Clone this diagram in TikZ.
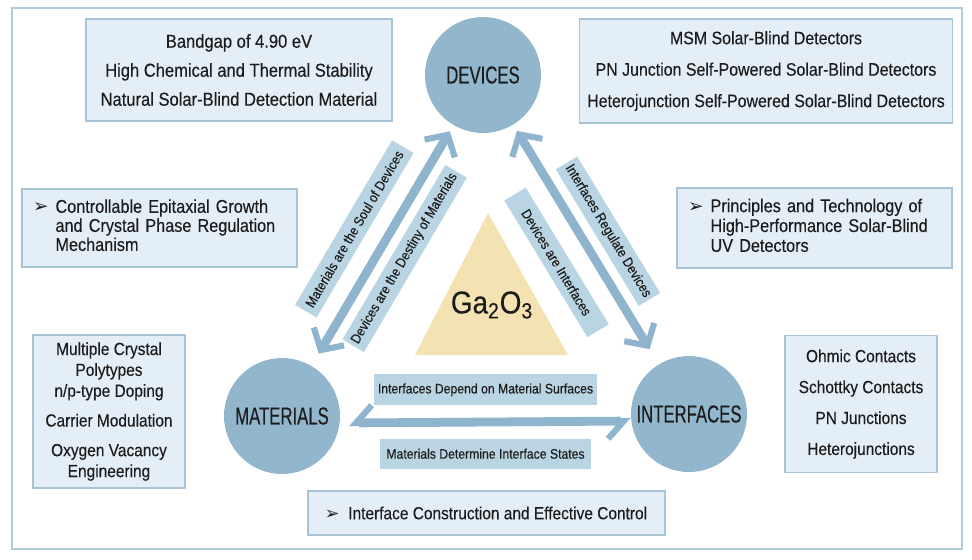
\documentclass[tikz,border=0pt]{standalone}
\usepackage{fontspec}
\setmainfont{Liberation Sans}[FakeStretch=0.88, FakeBold=0.25]
\newfontfamily\hubfont{Liberation Sans}[FakeStretch=0.68, FakeBold=0.25]
\newfontfamily\symfont{DejaVu Sans}
\usetikzlibrary{arrows.meta,positioning}
\definecolor{boxfill}{HTML}{E4EEF6}
\definecolor{boxline}{HTML}{A9C4D5}
\definecolor{hubfill}{HTML}{92B6CB}
\definecolor{linkcol}{HTML}{8EB5CD}
\definecolor{tagfill}{HTML}{B9D4E2}
\definecolor{gafill}{HTML}{F4E2B2}
\definecolor{framecol}{HTML}{B3CCDA}
\definecolor{ink}{HTML}{1C1C1C}
\def\pointer{{\symfont\char"27A2}}
\tikzset{
  infobox/.style={draw=boxline, fill=boxfill, line width=0.8pt, text=ink, inner sep=0pt,
    font=\fontsize{10}{16.5}\selectfont},
  hub/.style={circle, fill=hubfill, minimum size=2.32cm, inner sep=0pt, text=ink,
    font=\hubfont\fontsize{14}{16}\selectfont},
  link/.style={linkcol, line width=5pt,
    >={Straight Barb[length=9pt,width=20pt,line width=3.5pt]}, <->},
  hlink/.style={linkcol, line width=5pt,
    {Straight Barb[harpoon,swap,length=9pt,width=20pt,line width=3.5pt]}-{Straight Barb[harpoon,swap,length=9pt,width=20pt,line width=3.5pt]}},
  linktag/.style={fill=tagfill, text=ink, inner sep=2pt, minimum height=0.5cm,
    font=\fontsize{7.9}{9}\selectfont},
}

\begin{document}
\begin{tikzpicture}[x=0.02cm, y=-0.02cm]
  \useasboundingbox (0,0) rectangle (972,559);
  \draw[framecol, line width=1.5pt] (12,8) rectangle (962,549);

  \fill[gafill] (488,213) -- (415,355) -- (568,355) -- cycle;
  \node[text=ink, font=\fontsize{18}{20}\selectfont] (ga) at (492,305) {Ga\textsubscript{2}O\textsubscript{3}};

  \node[hub] (dev) at (483,75) {DEVICES};
  \node[hub] (mat) at (282,416) {MATERIALS};
  \node[hub] (int) at (689,414) {INTERFACES};

  \node[infobox, minimum width=6.12cm, minimum height=2.04cm, align=center,
    font=\fontsize{10.7}{16.5}\selectfont] (props) at (239,70)
    {Bandgap of 4.90 eV\\High Chemical and Thermal Stability\\Natural Solar-Blind Detection Material};
  \node[infobox, minimum width=7.46cm, minimum height=2.08cm, align=center,
    font=\fontsize{10.3}{17.9}\selectfont] (detectors) at (766,71)
    {MSM Solar-Blind Detectors\\PN Junction Self-Powered Solar-Blind Detectors\\Heterojunction Self-Powered Solar-Blind Detectors};
  \node[infobox, minimum width=5.5cm, minimum height=1.56cm, inner xsep=6.2pt, text width=5.06cm,
    align=left, font=\fontsize{10.5}{10.8}\selectfont] (growth) at (159.5,228)
    {\begin{tabular}{@{}l@{\hspace{4pt}}l@{}}\pointer & Controllable Epitaxial Growth\\ & and Crystal Phase Regulation\\ & Mechanism\end{tabular}};
  \node[infobox, minimum width=5.5cm, minimum height=1.6cm, inner xsep=6.2pt, text width=5.06cm,
    align=left, font=\fontsize{10.5}{11.3}\selectfont] (principles) at (814.5,228)
    {\begin{tabular}{@{}l@{\hspace{4pt}}l@{}}\pointer & Principles and Technology of\\ & High-Performance Solar-Blind\\ & UV Detectors\end{tabular}};
  \node[infobox, minimum width=3.04cm, minimum height=3.06cm, align=center,
    font=\fontsize{10}{11.9}\selectfont] (tuning) at (109,411.5)
    {Multiple Crystal\\Polytypes\\n/p-type Doping\\[5pt]Carrier Modulation\\[5pt]Oxygen Vacancy\\Engineering};
  \node[infobox, minimum width=3.04cm, minimum height=2.74cm, align=center,
    font=\fontsize{10}{17.6}\selectfont] (contacts) at (861,404)
    {Ohmic Contacts\\Schottky Contacts\\PN Junctions\\Heterojunctions};
  \node[infobox, minimum width=7.14cm, minimum height=0.88cm, inner xsep=9.5pt] (control) at (486.5,513)
    {\makebox[6.47cm][l]{\pointer\hspace{5pt}Interface Construction and Effective Control}};

  \draw[link, shorten <=8pt, shorten >=4pt] (mat) --
    node[linktag, sloped, above=9pt, minimum width=3.82cm] {Materials are the Soul of Devices}
    node[linktag, sloped, below=5pt, minimum width=3.82cm] {Devices are the Destiny of Materials} (dev);
  \draw[link, shorten <=4pt, shorten >=10pt] (dev) --
    node[linktag, sloped, above=5pt, minimum width=3.1cm] {Interfaces Regulate Devices}
    node[linktag, sloped, below=10pt, minimum width=3.2cm] {Devices are Interfaces} (int);
  \draw[hlink, shorten <=5pt] ([yshift=-4pt]mat.east) --
    node[linktag, above=7pt, minimum width=4.24cm, minimum height=0.62cm] {Interfaces Depend on Material Surfaces}
    node[linktag, below=7pt, minimum width=4.24cm, minimum height=0.6cm] {Materials Determine Interface States} ([yshift=-4pt]int.west);
\end{tikzpicture}
\end{document}
